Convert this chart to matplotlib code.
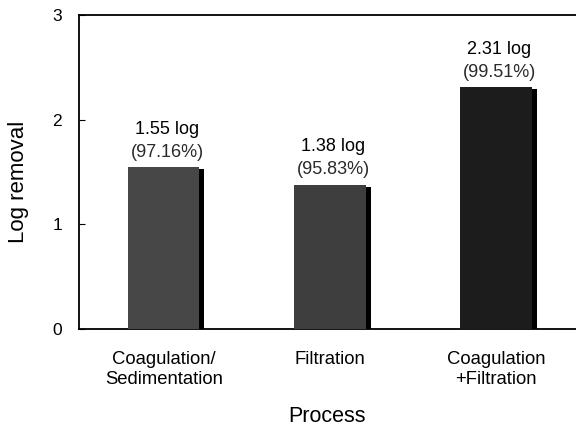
import numpy as np
import matplotlib.pyplot as plt

plt.rcParams["font.family"] = ["Liberation Sans", "DejaVu Sans"]

processes = ["Coagulation/\nSedimentation", "Filtration", "Coagulation\n+Filtration"]
log_removal = [1.55, 1.38, 2.31]
percent_removal = ["97.16%", "95.83%", "99.51%"]
bar_colors = ["#474747", "#3e3e3e", "#1c1c1c"]


def main():
    fig = plt.figure(figsize=(5.76, 4.30), dpi=100)
    ax = fig.add_axes([0.137, 0.235, 0.863, 0.73])

    xs = np.arange(len(processes))
    width = 0.43
    shadow = 0.03

    # black drop shadow, then the grey bar over it
    ax.bar(xs + shadow, np.array(log_removal) - 0.02, width=width, color="black", zorder=2)
    ax.bar(xs, log_removal, width=width, color=bar_colors, zorder=3)

    for x, v, p in zip(xs, log_removal, percent_removal):
        ax.text(x + 0.02, v + 0.36, f"{v:.2f} log", ha="center", va="center", fontsize=13)
        ax.text(x + 0.02, v + 0.14, f"({p})", ha="center", va="center",
                fontsize=13, color="#2a2a2a")

    ax.set_xlim(-0.51, 2.48)
    ax.set_ylim(0, 3)
    ax.set_yticks([0, 1, 2, 3])
    ax.set_xticks(xs)
    ax.set_xticklabels(processes, fontsize=13.3, linespacing=1.25)
    ax.tick_params(axis="y", direction="in", length=4, labelsize=12.5, pad=12)
    ax.tick_params(axis="x", length=0, pad=16)
    ax.spines["right"].set_visible(False)
    for s in ("left", "top", "bottom"):
        ax.spines[s].set_linewidth(1.3)

    ax.set_ylabel("Log removal", fontsize=16)
    ax.yaxis.set_label_coords(-0.1, 0.47)
    ax.set_xlabel("Process", fontsize=15.5, labelpad=13)

    fig.savefig("out.png", dpi=100)


if __name__ == "__main__":
    main()
